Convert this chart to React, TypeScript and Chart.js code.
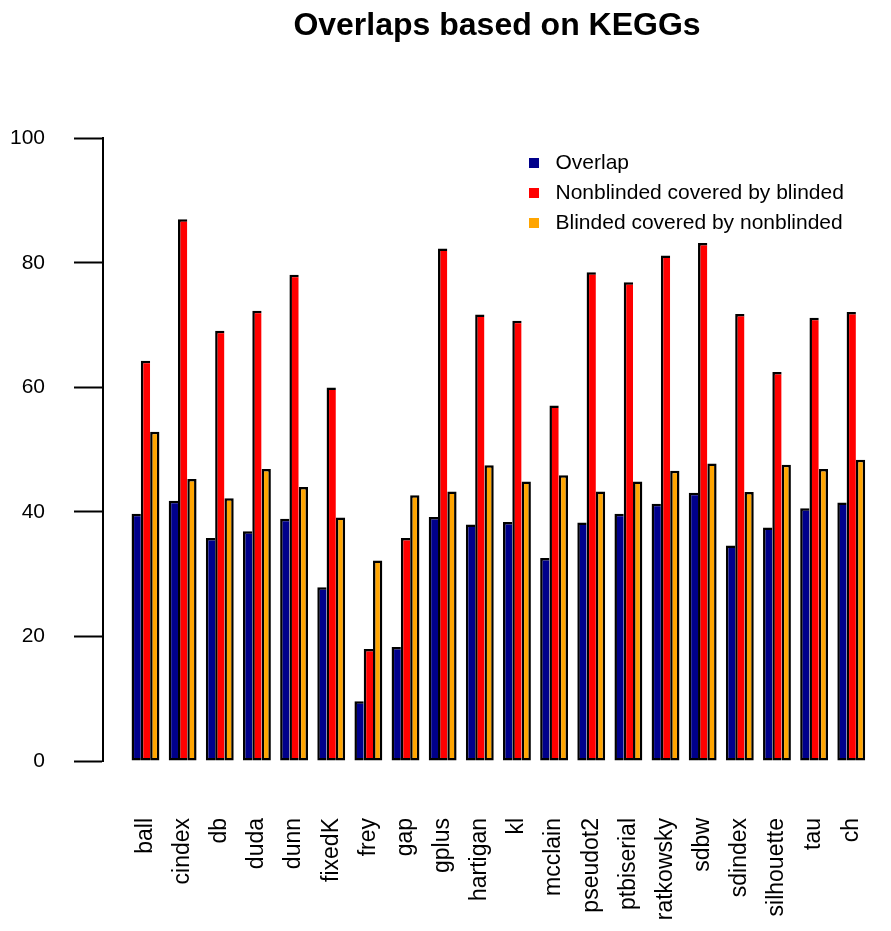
import React, { useEffect, useRef } from 'react';
import { Chart, registerables } from 'chart.js';

Chart.register(...registerables);

const categories = [
  'ball', 'cindex', 'db', 'duda', 'dunn', 'fixedK', 'frey', 'gap', 'gplus', 'hartigan',
  'kl', 'mcclain', 'pseudot2', 'ptbiserial', 'ratkowsky', 'sdbw', 'sdindex', 'silhouette', 'tau', 'ch',
];
const overlap = [39.7, 41.8, 35.8, 36.9, 38.9, 27.9, 9.6, 18.3, 39.2, 38.0, 38.4, 32.6, 38.3, 39.7, 41.3, 43.1, 34.6, 37.5, 40.6, 41.5];
const nonblindedCovered = [64.3, 87.0, 69.1, 72.3, 78.1, 60.0, 18.0, 35.8, 82.3, 71.7, 70.7, 57.1, 78.5, 76.9, 81.2, 83.2, 71.8, 62.5, 71.2, 72.1];
const blindedCovered = [52.9, 45.3, 42.2, 46.9, 44.0, 39.1, 32.2, 42.7, 43.3, 47.5, 44.9, 45.9, 43.3, 44.9, 46.6, 47.8, 43.2, 47.6, 46.9, 48.4];
const seriesNames = ['Overlap', 'Nonblinded covered by blinded', 'Blinded covered by nonblinded'];
const seriesColors = ['#00008B', '#FF0000', '#FFA500'];
const yTicks = [0, 20, 40, 60, 80, 100];
const chartTitle = 'Overlaps based on KEGGs';

const FONT = '"Liberation Sans", Arial, Helvetica, sans-serif';

const legendPlacer = {
  id: 'legendPlacer',
  afterLayout(chart: any) {
    const l = chart.legend;
    if (l) {
      l.left = chart.chartArea.left + 410;
      l.top = chart.chartArea.top + 5;
    }
  },
};

function makeSquare(color: string, size: number) {
  const c = document.createElement('canvas');
  c.width = size;
  c.height = size;
  const ctx = c.getContext('2d');
  if (ctx) {
    ctx.fillStyle = color;
    ctx.fillRect(0, 0, size, size);
  }
  return c;
}

export default function App() {
  const ref = useRef<HTMLCanvasElement | null>(null);

  useEffect(() => {
    if (!ref.current) return;
    const seriesValues = [overlap, nonblindedCovered, blindedCovered];
    const squares = seriesColors.map((c) => makeSquare(c, 10));
    const bw = 2.5;
    const datasets = seriesValues.map((vals, s) => ({
      label: seriesNames[s],
      data: vals.map((v, i) => ({ x: i, y: v })),
      backgroundColor: seriesColors[s],
      borderColor: '#000000',
      borderWidth: s === 2 ? { left: bw, top: bw, bottom: bw, right: bw } : { left: bw, top: bw, bottom: bw, right: 0 },
      borderSkipped: false,
      inflateAmount: 0,
      categoryPercentage: 0.75,
      barPercentage: 1.0,
    }));

    const chart = new Chart(ref.current, {
      type: 'bar',
      data: { datasets },
      plugins: [legendPlacer],
      options: {
        animation: false,
        responsive: false,
        layout: { padding: 0 },
        font: { family: FONT },
        plugins: {
          title: {
            display: true,
            text: chartTitle,
            fullSize: false,
            color: '#000',
            font: { family: FONT, size: 32, weight: 'bold' },
            padding: { top: 7, bottom: 93 },
          },
          legend: {
            position: 'chartArea',
            align: 'start',
            labels: {
              color: '#000',
              font: { family: FONT, size: 21 },
              usePointStyle: true,
              pointStyleWidth: 23,
              boxHeight: 10,
              padding: 9,
              generateLabels: (c: any) =>
                Chart.defaults.plugins.legend.labels.generateLabels(c).map((it: any, i: number) => ({
                  ...it,
                  pointStyle: squares[i],
                  lineWidth: 0,
                  strokeStyle: 'rgba(0,0,0,0)',
                })),
            },
          },
          tooltip: { enabled: false },
        },
        scales: {
          x: {
            type: 'linear',
            min: -1.144,
            max: 20.07,
            offset: false,
            grid: { display: false, drawTicks: false },
            border: { display: false },
            afterBuildTicks: (s: any) => {
              s.ticks = categories.map((_, i) => ({ value: i }));
            },
            afterFit: (s: any) => {
              s.height = 170;
              s.paddingLeft = 0;
              s.paddingRight = 0;
            },
            ticks: {
              autoSkip: false,
              minRotation: 90,
              maxRotation: 90,
              padding: 57,
              color: '#000',
              font: { family: FONT, size: 23 },
              callback: (v: any) => categories[v as number] ?? '',
            },
          },
          y: {
            min: 0,
            max: 100,
            afterBuildTicks: (s: any) => {
              s.ticks = yTicks.map((v) => ({ value: v }));
            },
            afterFit: (s: any) => {
              s.width = 103;
            },
            grid: {
              drawOnChartArea: false,
              drawTicks: true,
              tickLength: 29,
              tickColor: '#000',
              tickWidth: 2,
            },
            border: { display: true, color: '#000', width: 2 },
            ticks: {
              padding: 29,
              color: '#000',
              font: { family: FONT, size: 21 },
            },
          },
        },
      } as any,
    });
    return () => chart.destroy();
  }, []);

  return (
    <div style={{ position: 'absolute', left: 0, top: 0, width: 891, height: 931, background: '#fff' }}>
      <canvas ref={ref} width={891} height={931} />
    </div>
  );
}
